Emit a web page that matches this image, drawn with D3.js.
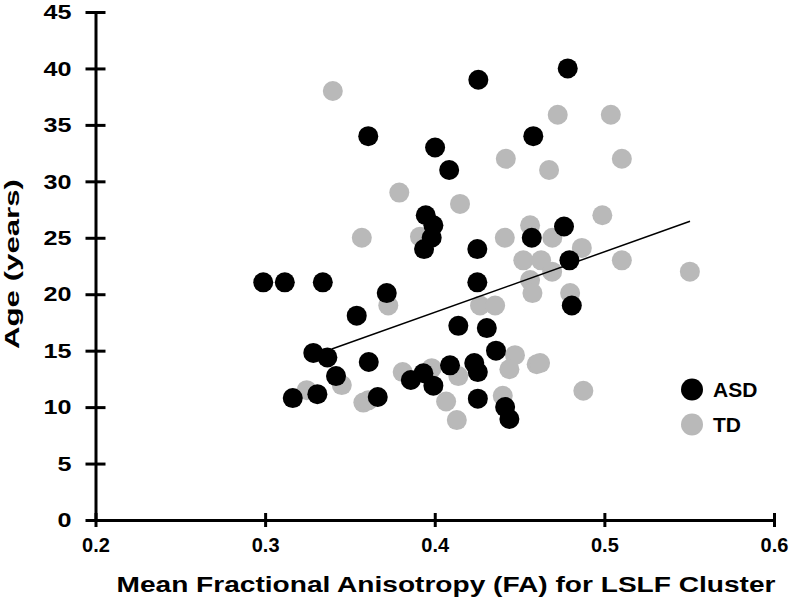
<!DOCTYPE html>
<html>
<head>
<meta charset="utf-8">
<script src="https://cdn.jsdelivr.net/npm/d3@7"></script>
<style>
  html, body { margin: 0; padding: 0; background: #fff; }
  svg { display: block; }
</style>
</head>
<body>
<svg id="chart" width="792" height="602"></svg>
<script>
// ---- Data ----
const asdFA = [0.4257,0.4784,0.3608,0.4581,0.4002,0.4085,0.3947,0.3992,0.4762,0.3982,
               0.4572,0.3937,0.4251,0.4794,0.2989,0.3116,0.3340,0.4251,0.3717,0.4808,
               0.3540,0.4139,0.4307,0.3284,0.3367,0.3611,0.4361,0.3418,0.4090,0.4233,
               0.4254,0.3933,0.3859,0.3992,0.3163,0.3308,0.3664,0.4254,0.4415,0.4440];
const asdAge = [39.0,40.0,34.0,34.0,33.0,31.0,27.0,26.1,26.0,25.0,
                25.0,24.0,24.0,23.0,21.05,21.05,21.05,21.05,20.1,19.0,
                18.1,17.2,17.0,14.8,14.4,14.0,15.0,12.75,13.7,13.9,
                13.1,13.0,12.4,11.9,10.8,11.15,10.9,10.75,10.0,8.95];
const tdFA = [0.3399,0.4725,0.5038,0.4419,0.5103,0.4674,0.3791,0.4149,0.4988,0.4562,
              0.4413,0.4693,0.3570,0.3913,0.4867,0.4522,0.4627,0.5103,0.4692,0.5504,
              0.4562,0.4576,0.4798,0.3726,0.4267,0.4356,0.3245,0.3452,0.3579,0.3608,
              0.3811,0.3982,0.4139,0.4067,0.4130,0.4401,0.4473,0.4440,0.4601,0.4621,0.4876];
const tdAge = [38.0,35.9,35.9,32.0,32.0,31.0,29.0,28.0,27.0,26.1,
               25.0,25.0,25.0,25.1,24.1,23.0,23.0,23.0,22.0,22.0,
               21.25,20.1,20.1,19.0,19.0,19.0,11.5,11.95,10.4,10.6,
               13.1,13.45,12.75,10.5,8.85,11.0,14.6,13.35,13.8,13.9,11.45];
const trendFA = [0.3393, 0.5505];
const trendAge = [15.15, 26.46];
const xTicks = [0.2, 0.3, 0.4, 0.5, 0.6];
const yTicks = [0, 5, 10, 15, 20, 25, 30, 35, 40, 45];
const seriesNames = ["ASD", "TD"];
const seriesColors = ["#000000", "#b9b9b9"];
const xTitle = "Mean Fractional Anisotropy (FA) for LSLF Cluster";
const yTitle = "Age (years)";

// ---- Chart ----
const svg = d3.select("#chart");
const x = d3.scaleLinear().domain([0.2, 0.6]).range([95.5, 774]);
const y = d3.scaleLinear().domain([0, 45]).range([520, 12]);

// Y axis
const yAxis = svg.append("g").attr("transform", `translate(${x(0.2)},0)`)
  .call(d3.axisLeft(y).tickValues(yTicks).tickFormat(d3.format("d"))
        .tickSizeInner(10).tickSizeOuter(0).tickPadding(14));
yAxis.select(".domain").attr("stroke", "#000").attr("stroke-width", 3);
yAxis.selectAll(".tick line").attr("x1", -10).attr("x2", 10)
  .attr("stroke", "#000").attr("stroke-width", 3);
yAxis.selectAll(".tick text")
  .attr("font-family", "'Liberation Sans', Arial, sans-serif")
  .attr("font-weight", "bold").attr("font-size", 21).attr("fill", "#000")
  .attr("textLength", d => String(d).length * 14)
  .attr("lengthAdjust", "spacingAndGlyphs");

// X axis
const xAxis = svg.append("g").attr("transform", `translate(0,${y(0)})`)
  .call(d3.axisBottom(x).tickValues(xTicks).tickFormat(d3.format(".1f"))
        .tickSizeInner(7).tickSizeOuter(0).tickPadding(11));
xAxis.select(".domain").attr("stroke", "#000").attr("stroke-width", 3);
xAxis.selectAll(".tick line").attr("y1", -7).attr("y2", 7)
  .attr("stroke", "#000").attr("stroke-width", 3);
xAxis.selectAll(".tick text")
  .attr("font-family", "'Liberation Sans', Arial, sans-serif")
  .attr("font-weight", "bold").attr("font-size", 20).attr("fill", "#000");

// Points: TD first, ASD on top
const td = tdFA.map((v, i) => ({fa: v, age: tdAge[i]}));
const asd = asdFA.map((v, i) => ({fa: v, age: asdAge[i]}));
svg.append("g").selectAll("circle").data(td).join("circle")
  .attr("cx", d => x(d.fa)).attr("cy", d => y(d.age)).attr("r", 10)
  .attr("fill", seriesColors[1]);
svg.append("g").selectAll("circle").data(asd).join("circle")
  .attr("cx", d => x(d.fa)).attr("cy", d => y(d.age)).attr("r", 10)
  .attr("fill", seriesColors[0]);

// Trend line
const trend = trendFA.map((v, i) => [v, trendAge[i]]);
svg.append("path").datum(trend)
  .attr("d", d3.line().x(d => x(d[0])).y(d => y(d[1])))
  .attr("stroke", "#000").attr("stroke-width", 1.5).attr("fill", "none");

// Legend
const legend = svg.append("g");
seriesNames.forEach((name, i) => {
  const cy = 389.5 + i * 35;
  legend.append("circle").attr("cx", 692).attr("cy", cy).attr("r", 11)
    .attr("fill", seriesColors[i]);
  legend.append("text").attr("x", 713).attr("y", cy + 7.5)
    .attr("font-family", "'Liberation Sans', Arial, sans-serif")
    .attr("font-weight", "bold").attr("font-size", 21).attr("fill", "#000")
    .text(name);
});

// Axis titles
svg.append("text").attr("x", 446).attr("y", 592)
  .attr("text-anchor", "middle")
  .attr("font-family", "'Liberation Sans', Arial, sans-serif")
  .attr("font-weight", "bold").attr("font-size", 22).attr("fill", "#000")
  .attr("textLength", 659).attr("lengthAdjust", "spacingAndGlyphs")
  .text(xTitle);

svg.append("text")
  .attr("transform", "translate(19,264) rotate(-90)")
  .attr("text-anchor", "middle")
  .attr("font-family", "'Liberation Sans', Arial, sans-serif")
  .attr("font-weight", "bold").attr("font-size", 21).attr("fill", "#000")
  .attr("textLength", 170).attr("lengthAdjust", "spacingAndGlyphs")
  .text(yTitle);
</script>
</body>
</html>
